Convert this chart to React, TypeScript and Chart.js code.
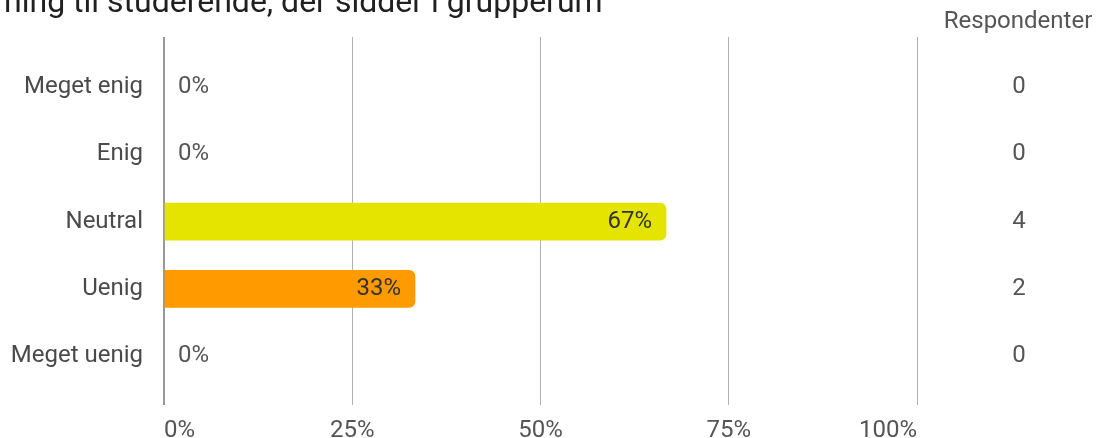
import React, { useEffect, useRef } from "react";
import { Chart, registerables } from "chart.js";

Chart.register(...registerables);

const titleText = "ning til studerende, der sidder i grupperum";
const categories = ["Meget enig", "Enig", "Neutral", "Uenig", "Meget uenig"];
const percents = [0, 0, 66.67, 33.33, 0];
const respondents = [0, 0, 4, 2, 0];
const barColors = ["#2e9e3e", "#8fc43a", "#e5e400", "#ff9a00", "#e0301e"];
const xTicks = [0, 25, 50, 75, 100];
const countHeader = "Respondenter";

const FONT = "Roboto, 'Noto Sans', sans-serif";

export default function App() {
  const ref = useRef<HTMLCanvasElement | null>(null);

  useEffect(() => {
    const canvas = ref.current;
    if (!canvas) return;

    const overlay = {
      id: "overlay",
      afterDatasetsDraw(chart: any) {
        const ctx = chart.ctx;
        const xs = chart.scales.x;
        const ys = chart.scales.y;
        const meta = chart.getDatasetMeta(0);
        ctx.save();
        ctx.font = `24px ${FONT}`;
        ctx.textBaseline = "middle";
        meta.data.forEach((bar: any, i: number) => {
          const v = percents[i];
          const label = Math.round(v) + "%";
          if (v > 5) {
            ctx.fillStyle = "#333333";
            ctx.textAlign = "right";
            ctx.fillText(label, bar.x - 14, bar.y);
          } else {
            ctx.fillStyle = "#555555";
            ctx.textAlign = "left";
            ctx.fillText(label, xs.getPixelForValue(0) + 14, bar.y);
          }
        });
        // respondents column
        ctx.fillStyle = "#555555";
        ctx.textAlign = "center";
        respondents.forEach((n, i) => {
          ctx.fillText(String(n), 1019, ys.getPixelForValue(i));
        });
        ctx.fillText(countHeader, 1018, 22);
        // title (clipped at top)
        ctx.fillStyle = "#202020";
        ctx.font = `32px ${FONT}`;
        ctx.textAlign = "left";
        ctx.textBaseline = "alphabetic";
        ctx.fillText(titleText, 4, 11.5);
        ctx.restore();
      },
    };

    const chart = new Chart(canvas, {
      type: "bar",
      data: {
        datasets: [
          {
            data: percents.map((v, i) => ({ x: v, y: i })),
            backgroundColor: (c: any) =>
              percents[c.dataIndex] > 0 ? barColors[c.dataIndex] : "rgba(0,0,0,0)",
            borderRadius: 6,
            borderSkipped: "start",
            barThickness: 37,
          },
        ],
      },
      options: {
        indexAxis: "y",
        responsive: false,
        animation: false,
        layout: { padding: { top: 37, right: 179, left: 0, bottom: 0 } },
        plugins: {
          legend: { display: false },
          tooltip: { enabled: false },
        },
        scales: {
          x: {
            type: "linear",
            min: 0,
            max: 100,
            afterBuildTicks: (s: any) => {
              s.ticks = xTicks.map((v) => ({ value: v }));
            },
            afterFit: (s: any) => {
              s.height = 48;
            },
            grid: {
              color: (c: any) => (c.index === 0 ? "#999999" : "#b0b0b0"),
              lineWidth: (c: any) => (c.index === 0 ? 2 : 1),
              tickLength: 15,
            },
            border: { display: false },
            ticks: {
              align: "inner",
              padding: 12,
              color: "#555555",
              font: { family: FONT, size: 24 },
              maxRotation: 0,
              autoSkip: false,
              callback: (v: any) => v + "%",
            },
          },
          y: {
            type: "linear",
            reverse: true,
            offset: false,
            min: -0.743,
            max: 4.502,
            afterBuildTicks: (s: any) => {
              s.ticks = categories.map((_, i) => ({ value: i }));
            },
            afterFit: (s: any) => {
              s.width = 164;
            },
            grid: { display: false, drawTicks: false, offset: false },
            border: { display: false },
            ticks: {
              padding: 21,
              color: "#4a4a4a",
              font: { family: FONT, size: 24 },
              autoSkip: false,
              callback: (v: any) => categories[v] ?? "",
            },
          },
        },
      },
      plugins: [overlay],
    } as any);

    return () => chart.destroy();
  }, []);

  return (
    <div style={{ position: "absolute", left: 0, top: 0, width: 1096, height: 438, background: "#fff" }}>
      <canvas ref={ref} width={1096} height={438} style={{ display: "block" }} />
    </div>
  );
}
